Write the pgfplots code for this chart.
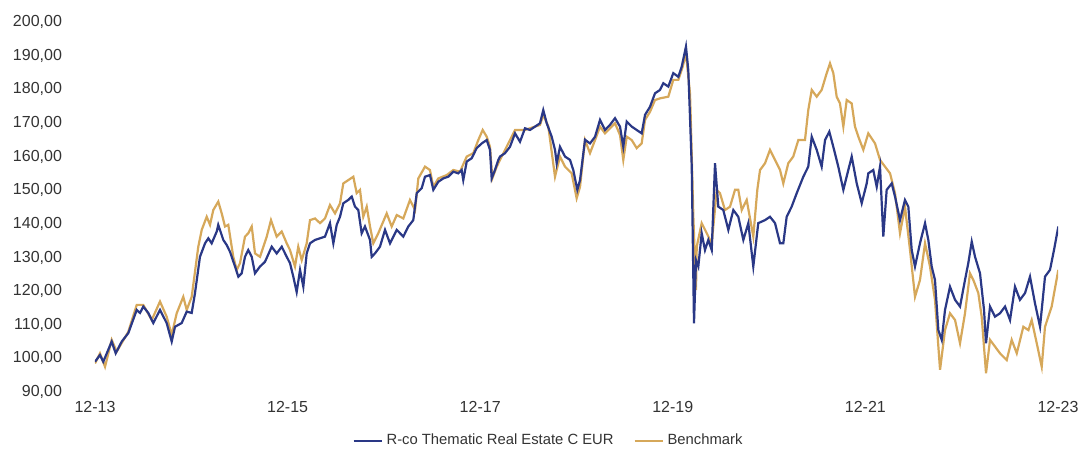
\documentclass[border=0pt]{standalone}
\usepackage{pgfplots}
\pgfplotsset{compat=1.18}
\usepackage{fontspec}
\setmainfont{Liberation Sans}
\definecolor{fundblue}{RGB}{42,56,134}
\definecolor{benchgold}{RGB}{214,168,90}
\begin{document}
\begin{tikzpicture}
\begin{axis}[
  scale only axis,
  width=481.5pt, height=185pt,
  xmin=0, xmax=120, ymin=90, ymax=200,
  axis line style={draw=none},
  major tick length=0pt,
  xtick={0,24,48,72,96,120},
  xticklabels={12-13,12-15,12-17,12-19,12-21,12-23},
  ytick={90,100,...,200},
  /pgf/number format/.cd, fixed, fixed zerofill, precision=2, use comma, 1000 sep={}, assume math mode=true,
  /pgfplots/.cd,
  tick label style={font=\fontsize{8}{9.5}\selectfont, text=black!80},
  yticklabel style={xshift=-13pt},
  xticklabel style={yshift=-1pt},
  legend style={at={(0.472,-0.132)}, anchor=center, draw=none, legend columns=2,
    font=\fontsize{7.4}{9}\selectfont, text=black!80,
    /tikz/every even column/.append style={column sep=8pt}},
  legend image code/.code={\draw[#1] (0pt,0pt) -- (14pt,0pt);},
]
\addlegendimage{fundblue, line width=1pt}
\addlegendentry{R-co Thematic Real Estate C EUR}
\addlegendimage{benchgold, line width=1pt}
\addlegendentry{Benchmark}
\coordinate (o) at (rel axis cs:0,0);
% Benchmark
\addplot[benchgold, line width=1.1pt, forget plot] coordinates {
(0,98.5)(0.62,101.5)(1.25,97.5)(2.08,105.5)(2.70,102.0)(4.15,107.9)(5.20,115.9)(6.02,115.9)(7.07,111.4)(8.10,116.9)(8.93,112.4)(9.56,107.0)(10.18,113.4)(11.00,118.3)(11.43,114.4)(12.05,118.3)(12.87,133.2)(13.30,138.2)(13.92,142.1)(14.33,139.7)(14.74,144.1)(15.36,146.6)(15.79,143.1)(16.20,139.2)(16.61,139.7)(17.23,130.2)(17.66,126.3)(18.07,128.3)(18.69,136.2)(19.10,137.2)(19.53,139.2)(19.94,131.2)(20.56,130.2)(21.40,136.2)(21.93,141.1)(22.64,136.2)(23.27,137.7)(23.89,134.2)(24.30,132.2)(24.92,127.3)(25.33,133.2)(25.76,129.2)(26.38,134.2)(26.79,141.1)(27.41,141.6)(28.04,140.2)(28.66,141.6)(29.28,145.6)(29.91,143.1)(30.53,146.1)(30.94,152.0)(31.56,153.0)(32.19,154.0)(32.61,149.1)(33.02,150.1)(33.43,142.1)(33.86,145.1)(34.27,139.2)(34.68,134.2)(35.30,137.2)(36.35,143.1)(36.97,139.2)(37.60,142.6)(38.42,141.6)(39.25,147.1)(39.88,144.1)(40.29,153.5)(41.12,157.0)(41.74,156.0)(42.16,151.0)(42.78,153.5)(43.83,154.5)(44.65,156.0)(45.48,155.5)(46.32,160.0)(47.14,161.0)(47.76,164.9)(48.31,167.9)(48.81,165.9)(49.22,162.9)(49.51,153.5)(50.06,157.0)(50.47,159.0)(52.34,167.9)(53.58,167.9)(55.45,169.4)(55.86,172.4)(56.49,168.9)(57.32,154.0)(57.94,160.0)(58.57,157.0)(59.40,155.0)(60.02,147.6)(60.44,151.0)(61.06,164.9)(61.68,161.0)(62.31,164.9)(62.93,168.9)(63.55,166.9)(64.80,169.9)(65.42,166.4)(65.83,159.0)(66.26,165.9)(66.88,164.9)(67.50,162.5)(68.12,163.9)(68.54,170.9)(69.16,173.3)(69.78,176.8)(70.40,177.3)(71.44,177.8)(72.06,182.8)(72.69,182.8)(73.23,186.7)(73.64,190.7)(74.14,178.8)(74.23,171.9)(74.56,142.1)(74.89,120.3)(74.98,133.2)(75.60,140.2)(76.23,137.2)(76.85,134.2)(77.48,150.1)(77.88,149.1)(78.50,144.1)(79.13,145.1)(79.75,150.1)(80.16,150.1)(80.59,144.1)(81.21,147.1)(82.03,136.2)(82.53,150.1)(82.87,156.0)(83.49,158.0)(84.11,162.0)(84.74,159.0)(85.36,156.0)(85.77,152.0)(86.39,158.0)(87.01,160.0)(87.64,164.9)(88.47,164.9)(88.88,173.8)(89.31,179.8)(89.93,177.8)(90.55,179.8)(91.18,184.8)(91.59,187.7)(92.00,184.8)(92.42,177.8)(92.83,175.8)(93.25,168.9)(93.67,176.8)(94.29,175.8)(94.70,168.9)(95.12,165.9)(95.74,162.0)(96.36,166.9)(97.20,163.9)(97.82,159.0)(98.44,157.0)(99.07,155.0)(99.69,149.1)(100.31,137.2)(100.93,145.1)(101.56,132.2)(102.18,118.3)(102.80,123.3)(103.43,134.2)(104.05,127.3)(104.67,117.4)(105.30,96.6)(105.92,108.4)(106.54,113.4)(107.17,111.4)(107.79,104.5)(108.41,113.4)(109.03,125.3)(109.45,123.3)(110.07,119.4)(110.49,112.4)(111.03,95.6)(111.53,105.5)(112.15,103.5)(112.77,101.5)(113.61,99.5)(114.23,105.5)(114.86,101.5)(115.68,109.4)(116.31,108.4)(116.72,111.4)(117.35,104.5)(117.97,97.5)(118.38,109.4)(119.21,115.4)(120.04,126.3)
};
% Fund
\addplot[fundblue, line width=1.1pt, forget plot] coordinates {
(0,99.0)(0.62,101.0)(1.03,99.0)(2.08,105.0)(2.58,101.5)(3.33,105.0)(4.15,107.5)(5.20,114.4)(5.61,113.5)(6.02,115.4)(6.64,113.5)(7.26,110.5)(8.10,114.4)(8.93,110.5)(9.56,105.0)(9.97,109.4)(10.80,110.5)(11.43,113.9)(12.05,113.5)(12.46,119.4)(13.08,130.2)(13.71,134.2)(14.12,135.7)(14.54,134.2)(15.17,137.7)(15.36,139.7)(15.99,135.2)(16.41,133.7)(16.82,131.7)(17.45,127.3)(17.86,124.3)(18.28,125.3)(18.69,130.2)(19.10,132.2)(19.53,130.2)(19.94,125.3)(20.56,127.3)(21.18,128.7)(22.02,133.2)(22.64,131.2)(23.27,133.2)(23.89,130.2)(24.30,128.3)(24.71,124.3)(25.13,119.7)(25.55,126.3)(25.96,121.3)(26.38,131.2)(26.79,134.2)(27.41,135.2)(28.04,135.7)(28.66,136.2)(29.28,140.2)(29.70,134.2)(30.12,139.7)(30.53,142.1)(30.94,146.1)(31.56,147.1)(31.99,148.1)(32.40,145.1)(32.81,144.1)(33.23,137.2)(33.64,139.2)(34.27,135.2)(34.48,130.2)(34.89,131.2)(35.51,133.2)(36.14,138.2)(36.76,134.2)(37.60,138.2)(38.42,136.2)(39.04,139.2)(39.66,141.1)(40.09,149.1)(40.71,150.6)(41.12,154.0)(41.74,154.5)(42.16,150.1)(42.78,152.5)(43.40,153.5)(44.02,154.0)(44.65,155.5)(45.27,155.0)(45.69,156.0)(45.89,153.0)(46.32,158.5)(46.94,159.5)(47.56,162.5)(48.19,163.9)(48.81,164.9)(49.22,162.0)(49.43,153.5)(49.84,156.0)(50.26,159.0)(50.47,160.0)(51.09,161.0)(51.71,162.9)(52.34,166.9)(52.96,164.4)(53.58,168.4)(54.21,167.9)(54.83,168.9)(55.45,169.9)(55.86,173.8)(56.29,169.9)(56.91,165.9)(57.32,162.0)(57.53,158.0)(57.94,162.9)(58.57,160.0)(59.19,159.0)(59.60,156.0)(60.10,150.1)(60.44,153.0)(61.06,165.0)(61.68,163.9)(62.31,165.9)(62.93,170.9)(63.55,167.9)(64.17,169.4)(64.80,171.4)(65.42,168.9)(65.83,162.9)(66.26,170.4)(66.88,168.9)(67.50,167.9)(68.12,166.9)(68.54,172.4)(69.16,174.8)(69.78,178.8)(70.40,179.8)(70.82,181.8)(71.44,180.8)(72.06,184.8)(72.69,183.7)(73.11,186.7)(73.64,192.7)(73.93,185.7)(74.14,171.9)(74.36,157.0)(74.64,110.4)(74.89,129.2)(75.18,127.3)(75.60,137.2)(76.01,132.2)(76.42,135.2)(76.85,132.2)(77.26,158.0)(77.67,145.1)(78.29,144.1)(78.92,138.2)(79.54,144.1)(80.16,142.1)(80.79,135.2)(81.41,140.2)(82.03,127.3)(82.65,140.2)(83.49,141.1)(84.11,142.1)(84.74,140.2)(85.36,134.2)(85.77,134.2)(86.19,142.1)(86.81,145.1)(87.44,149.1)(88.26,154.0)(88.88,157.0)(89.31,165.9)(89.93,162.0)(90.55,157.0)(90.97,164.9)(91.50,167.4)(92.00,162.9)(92.62,157.0)(93.25,150.1)(93.87,156.0)(94.29,160.0)(94.92,152.0)(95.54,146.1)(96.16,152.0)(96.36,155.0)(96.98,156.0)(97.41,151.0)(97.82,157.0)(98.23,136.2)(98.65,150.1)(99.28,152.0)(99.69,148.1)(100.31,141.1)(100.93,147.1)(101.35,145.1)(101.77,132.2)(102.18,127.3)(102.80,134.2)(103.43,140.2)(103.84,135.2)(104.26,127.3)(104.67,123.3)(105.09,108.4)(105.51,105.5)(105.92,114.4)(106.54,121.3)(107.17,117.4)(107.79,115.4)(108.41,123.3)(108.82,128.3)(109.25,134.7)(109.66,130.2)(110.28,125.3)(110.78,114.4)(111.03,104.5)(111.53,115.4)(112.15,112.4)(112.77,113.4)(113.40,115.4)(114.02,111.4)(114.64,121.3)(115.26,117.4)(115.89,119.4)(116.51,124.3)(117.13,116.4)(117.76,109.4)(118.38,124.3)(119.00,126.3)(119.50,132.2)(120.04,139.2)
};
\end{axis}
\pgfresetboundingbox
\path (o) ++(-47.5pt,-29pt) rectangle ++(540pt,225pt);
\end{tikzpicture}
\end{document}
